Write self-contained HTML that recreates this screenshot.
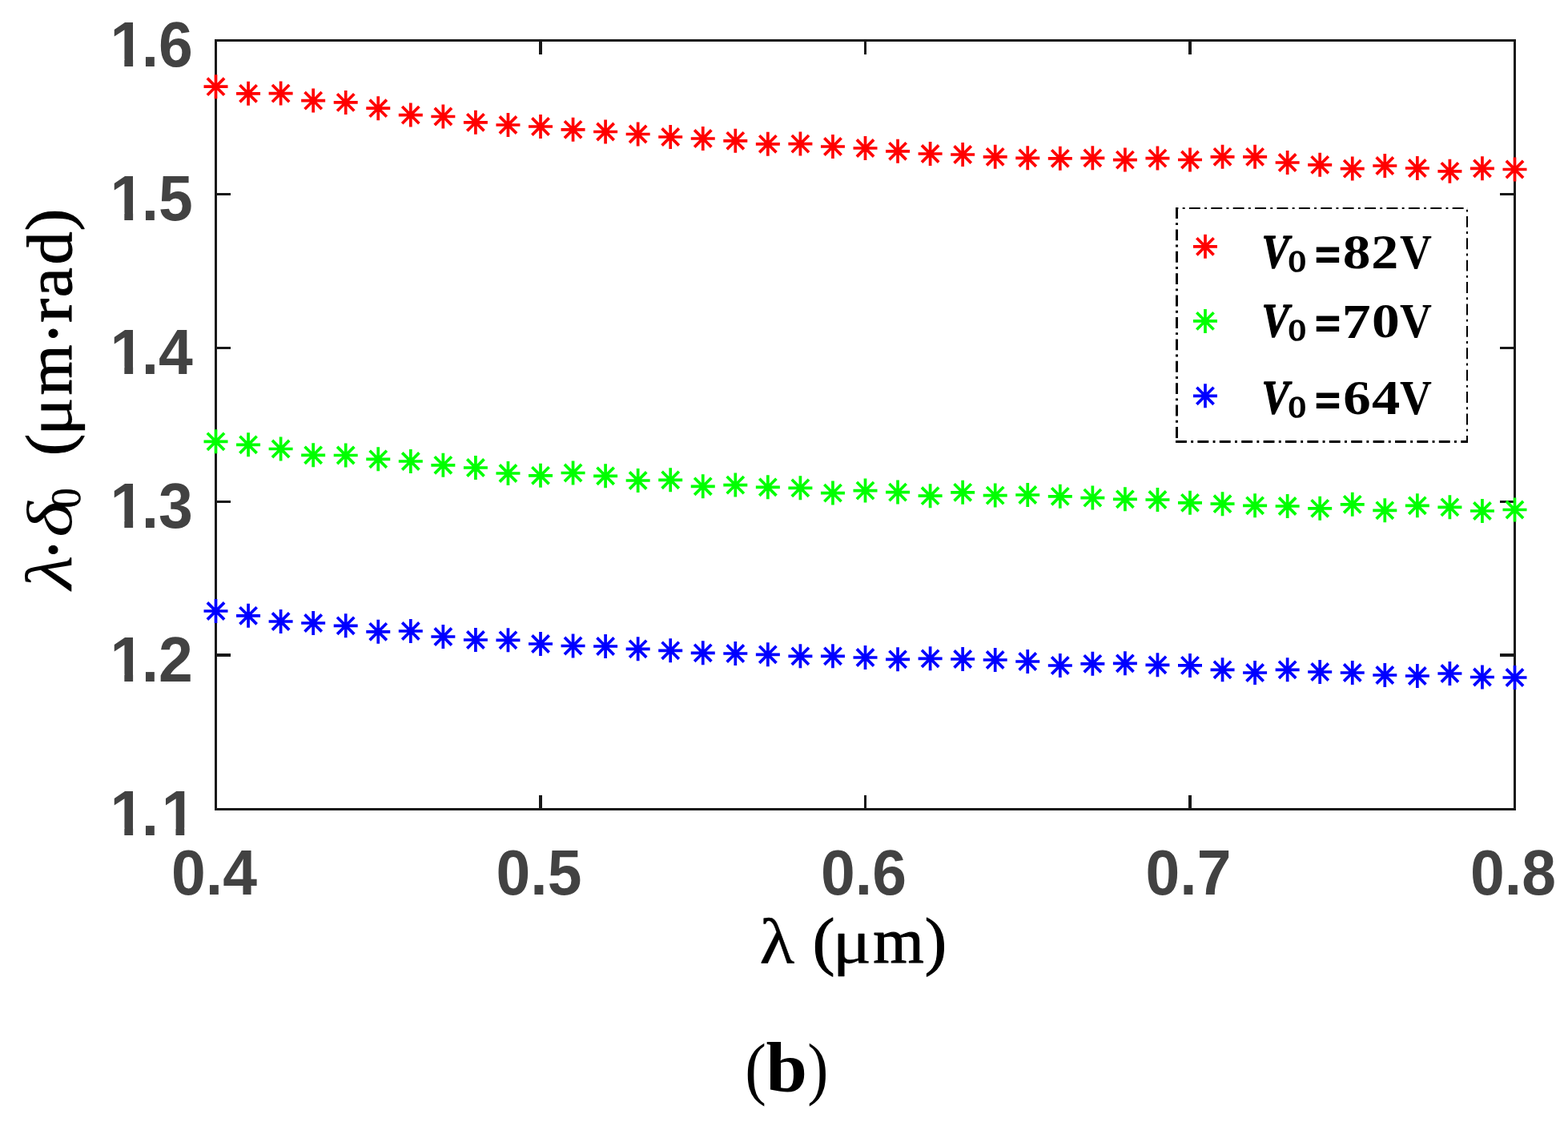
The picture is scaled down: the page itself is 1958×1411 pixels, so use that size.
<!DOCTYPE html>
<html lang="en"><head><meta charset="utf-8"><title>Figure (b)</title>
<style>
html,body{margin:0;padding:0;background:#fff;}
body{width:1958px;height:1411px;overflow:hidden;}
svg{display:block;}
.tick{font-family:"Liberation Sans",sans-serif;font-weight:bold;font-size:76.9px;fill:#424242;}
.ser{font-family:"Liberation Serif","DejaVu Serif",serif;fill:#000;}
.ax{stroke:#181818;stroke-width:3;fill:none;stroke-linecap:butt;}
.mk{stroke-width:3.7;fill:none;stroke-linecap:butt;}
</style></head><body>
<svg width="1958" height="1411" viewBox="0 0 1958 1411">
<rect x="0" y="0" width="1958" height="1411" fill="#ffffff"/>
<defs>
<path id="star" d="M-15.0,0H15.0M0,-15.0V15.0M-10.61,-10.61L10.61,10.61M-10.61,10.61L10.61,-10.61"/>
<clipPath id="c1"><path d="M-10,-80H140V20H46.26V-8.92H32.15V3H21.38V-8.92H-10Z"/></clipPath>
<clipPath id="c11"><path d="M-10,-80H140V-8.92H96.29V3H85.51V-8.92H62.13V20H46.26V-8.92H32.15V3H21.38V-8.92H-10Z"/></clipPath>
</defs>
<g class="ax">
<rect x="269.5" y="50.5" width="1622.0" height="960.00"/>
</g>
<g fill="#181818"><rect x="673.0" y="993.0" width="4" height="17" /><rect x="673.0" y="51.0" width="4" height="17" /><rect x="1079.0" y="993.0" width="3" height="17" /><rect x="1079.0" y="51.0" width="3" height="17" /><rect x="1484.0" y="993.0" width="4" height="17" /><rect x="1484.0" y="51.0" width="4" height="17" /><rect x="270.0" y="241.0" width="18" height="3" /><rect x="1873.0" y="241.0" width="18" height="3" /><rect x="270.0" y="433.0" width="18" height="3" /><rect x="1873.0" y="433.0" width="18" height="3" /><rect x="270.0" y="625.0" width="18" height="3" /><rect x="1873.0" y="625.0" width="18" height="3" /><rect x="270.0" y="816.0" width="18" height="4" /><rect x="1873.0" y="816.0" width="18" height="4" /></g>
<g class="tick">
<g transform="translate(133.96,82.90) scale(1,1.037)"><text clip-path="url(#c1)"><tspan x="3.6">1</tspan><tspan x="42.76">.6</tspan></text></g>
<g transform="translate(133.96,274.90) scale(1,1.037)"><text clip-path="url(#c1)"><tspan x="3.6">1</tspan><tspan x="42.76">.5</tspan></text></g>
<g transform="translate(133.96,466.90) scale(1,1.037)"><text clip-path="url(#c1)"><tspan x="3.6">1</tspan><tspan x="42.76">.4</tspan></text></g>
<g transform="translate(133.96,658.90) scale(1,1.037)"><text clip-path="url(#c1)"><tspan x="3.6">1</tspan><tspan x="42.76">.3</tspan></text></g>
<g transform="translate(133.96,850.90) scale(1,1.037)"><text clip-path="url(#c1)"><tspan x="3.6">1</tspan><tspan x="42.76">.2</tspan></text></g>
<g transform="translate(133.96,1042.90) scale(1,1.037)"><text clip-path="url(#c11)"><tspan x="3.6">1</tspan><tspan x="42.76">.</tspan><tspan x="67.73">1</tspan></text></g>
<text text-anchor="middle" transform="translate(267.45,1116.9) scale(1,1.037)">0.4</text>
<text text-anchor="middle" transform="translate(672.95,1116.9) scale(1,1.037)">0.5</text>
<text text-anchor="middle" transform="translate(1078.45,1116.9) scale(1,1.037)">0.6</text>
<text text-anchor="middle" transform="translate(1483.95,1116.9) scale(1,1.037)">0.7</text>
<text text-anchor="middle" transform="translate(1889.45,1116.9) scale(1,1.037)">0.8</text>
</g>
<g class="mk" stroke="#ff0000">
<use href="#star" x="269.50" y="108.2"/>
<use href="#star" x="310.05" y="116.8"/>
<use href="#star" x="350.60" y="116.6"/>
<use href="#star" x="391.15" y="125.6"/>
<use href="#star" x="431.70" y="127.9"/>
<use href="#star" x="472.25" y="135.2"/>
<use href="#star" x="512.80" y="143.6"/>
<use href="#star" x="553.35" y="145.5"/>
<use href="#star" x="593.90" y="152.8"/>
<use href="#star" x="634.45" y="156.0"/>
<use href="#star" x="675.00" y="158.0"/>
<use href="#star" x="715.55" y="161.8"/>
<use href="#star" x="756.10" y="164.5"/>
<use href="#star" x="796.65" y="167.5"/>
<use href="#star" x="837.20" y="171.0"/>
<use href="#star" x="877.75" y="173.0"/>
<use href="#star" x="918.30" y="175.8"/>
<use href="#star" x="958.85" y="179.8"/>
<use href="#star" x="999.40" y="179.6"/>
<use href="#star" x="1039.95" y="183.0"/>
<use href="#star" x="1080.50" y="185.0"/>
<use href="#star" x="1121.05" y="188.8"/>
<use href="#star" x="1161.60" y="192.0"/>
<use href="#star" x="1202.15" y="193.0"/>
<use href="#star" x="1242.70" y="195.8"/>
<use href="#star" x="1283.25" y="197.3"/>
<use href="#star" x="1323.80" y="197.8"/>
<use href="#star" x="1364.35" y="197.3"/>
<use href="#star" x="1404.90" y="199.6"/>
<use href="#star" x="1445.45" y="197.6"/>
<use href="#star" x="1486.00" y="199.5"/>
<use href="#star" x="1526.55" y="195.8"/>
<use href="#star" x="1567.10" y="195.8"/>
<use href="#star" x="1607.65" y="203.0"/>
<use href="#star" x="1648.20" y="205.8"/>
<use href="#star" x="1688.75" y="210.6"/>
<use href="#star" x="1729.30" y="207.0"/>
<use href="#star" x="1769.85" y="210.0"/>
<use href="#star" x="1810.40" y="213.8"/>
<use href="#star" x="1850.95" y="210.3"/>
<use href="#star" x="1891.50" y="211.5"/>
</g>
<g class="mk" stroke="#00ff00">
<use href="#star" x="269.50" y="551.3"/>
<use href="#star" x="310.05" y="555.3"/>
<use href="#star" x="350.60" y="560.5"/>
<use href="#star" x="391.15" y="568.3"/>
<use href="#star" x="431.70" y="568.5"/>
<use href="#star" x="472.25" y="573.3"/>
<use href="#star" x="512.80" y="576.0"/>
<use href="#star" x="553.35" y="580.8"/>
<use href="#star" x="593.90" y="584.0"/>
<use href="#star" x="634.45" y="591.0"/>
<use href="#star" x="675.00" y="593.8"/>
<use href="#star" x="715.55" y="590.5"/>
<use href="#star" x="756.10" y="594.3"/>
<use href="#star" x="796.65" y="600.0"/>
<use href="#star" x="837.20" y="599.3"/>
<use href="#star" x="877.75" y="607.3"/>
<use href="#star" x="918.30" y="605.6"/>
<use href="#star" x="958.85" y="608.3"/>
<use href="#star" x="999.40" y="609.3"/>
<use href="#star" x="1039.95" y="615.6"/>
<use href="#star" x="1080.50" y="612.6"/>
<use href="#star" x="1121.05" y="614.6"/>
<use href="#star" x="1161.60" y="619.2"/>
<use href="#star" x="1202.15" y="614.8"/>
<use href="#star" x="1242.70" y="618.6"/>
<use href="#star" x="1283.25" y="618.0"/>
<use href="#star" x="1323.80" y="619.8"/>
<use href="#star" x="1364.35" y="621.6"/>
<use href="#star" x="1404.90" y="623.3"/>
<use href="#star" x="1445.45" y="624.0"/>
<use href="#star" x="1486.00" y="627.8"/>
<use href="#star" x="1526.55" y="629.2"/>
<use href="#star" x="1567.10" y="631.3"/>
<use href="#star" x="1607.65" y="632.0"/>
<use href="#star" x="1648.20" y="634.8"/>
<use href="#star" x="1688.75" y="629.8"/>
<use href="#star" x="1729.30" y="637.3"/>
<use href="#star" x="1769.85" y="631.3"/>
<use href="#star" x="1810.40" y="633.3"/>
<use href="#star" x="1850.95" y="638.0"/>
<use href="#star" x="1891.50" y="636.5"/>
</g>
<g class="mk" stroke="#0000ff">
<use href="#star" x="269.50" y="763.0"/>
<use href="#star" x="310.05" y="768.8"/>
<use href="#star" x="350.60" y="776.0"/>
<use href="#star" x="391.15" y="778.0"/>
<use href="#star" x="431.70" y="781.3"/>
<use href="#star" x="472.25" y="788.8"/>
<use href="#star" x="512.80" y="788.0"/>
<use href="#star" x="553.35" y="795.0"/>
<use href="#star" x="593.90" y="799.0"/>
<use href="#star" x="634.45" y="799.3"/>
<use href="#star" x="675.00" y="804.0"/>
<use href="#star" x="715.55" y="806.5"/>
<use href="#star" x="756.10" y="807.0"/>
<use href="#star" x="796.65" y="810.3"/>
<use href="#star" x="837.20" y="812.3"/>
<use href="#star" x="877.75" y="815.3"/>
<use href="#star" x="918.30" y="816.0"/>
<use href="#star" x="958.85" y="817.3"/>
<use href="#star" x="999.40" y="819.3"/>
<use href="#star" x="1039.95" y="819.3"/>
<use href="#star" x="1080.50" y="821.0"/>
<use href="#star" x="1121.05" y="823.3"/>
<use href="#star" x="1161.60" y="822.3"/>
<use href="#star" x="1202.15" y="823.0"/>
<use href="#star" x="1242.70" y="824.0"/>
<use href="#star" x="1283.25" y="826.0"/>
<use href="#star" x="1323.80" y="831.0"/>
<use href="#star" x="1364.35" y="828.8"/>
<use href="#star" x="1404.90" y="828.3"/>
<use href="#star" x="1445.45" y="830.3"/>
<use href="#star" x="1486.00" y="830.9"/>
<use href="#star" x="1526.55" y="836.3"/>
<use href="#star" x="1567.10" y="840.0"/>
<use href="#star" x="1607.65" y="836.3"/>
<use href="#star" x="1648.20" y="839.0"/>
<use href="#star" x="1688.75" y="840.0"/>
<use href="#star" x="1729.30" y="843.0"/>
<use href="#star" x="1769.85" y="844.0"/>
<use href="#star" x="1810.40" y="841.0"/>
<use href="#star" x="1850.95" y="845.5"/>
<use href="#star" x="1891.50" y="846.0"/>
</g>
<g stroke="#000" fill="none" stroke-dasharray="13.9 5.3 2.9 5.3">
<path d="M1468,260H1833" stroke-width="2" stroke-dashoffset="10.5"/>
<path d="M1468,551.5H1833" stroke-width="3" stroke-dashoffset="0"/>
<path d="M1469.5,259V553" stroke-width="3" stroke-dashoffset="0"/>
<path d="M1832,259V553" stroke-width="2" stroke-dashoffset="16.5"/>
</g>
<use href="#star" class="mk" stroke="#ff0000" x="1505" y="307.8"/>
<text class="ser"><tspan x="1575.57" y="334.07" font-size="58.81" textLength="34.29" lengthAdjust="spacingAndGlyphs" font-weight="bold" font-style="italic" stroke="#000" stroke-width="1.3" stroke-linejoin="round">V</tspan><tspan x="1609.14" y="338.68" font-size="37.48" textLength="21.53" lengthAdjust="spacingAndGlyphs" stroke="#000" stroke-width="1.7" stroke-linejoin="round">0</tspan><tspan x="1639.05" y="336.67" font-size="57.44" textLength="37.92" lengthAdjust="spacingAndGlyphs" font-family="DejaVu Serif, serif" font-weight="bold">=</tspan><tspan x="1676.74" y="335.19" font-size="60.89" textLength="34.71" lengthAdjust="spacingAndGlyphs" font-weight="bold">8</tspan><tspan x="1712.21" y="335.00" font-size="60.53" textLength="33.98" lengthAdjust="spacingAndGlyphs" font-weight="bold">2</tspan><tspan x="1748.05" y="334.69" font-size="60.75" textLength="39.93" lengthAdjust="spacingAndGlyphs" font-weight="bold">V</tspan></text>
<use href="#star" class="mk" stroke="#00ff00" x="1505" y="400.9"/>
<text class="ser"><tspan x="1575.57" y="420.27" font-size="58.81" textLength="34.29" lengthAdjust="spacingAndGlyphs" font-weight="bold" font-style="italic" stroke="#000" stroke-width="1.3" stroke-linejoin="round">V</tspan><tspan x="1609.14" y="424.88" font-size="37.48" textLength="21.53" lengthAdjust="spacingAndGlyphs" stroke="#000" stroke-width="1.7" stroke-linejoin="round">0</tspan><tspan x="1639.05" y="422.87" font-size="57.44" textLength="37.92" lengthAdjust="spacingAndGlyphs" font-family="DejaVu Serif, serif" font-weight="bold">=</tspan><tspan x="1675.67" y="421.50" font-size="61.83" textLength="35.93" lengthAdjust="spacingAndGlyphs" font-weight="bold">7</tspan><tspan x="1713.09" y="421.29" font-size="61.19" textLength="34.82" lengthAdjust="spacingAndGlyphs" font-weight="bold">0</tspan><tspan x="1748.05" y="420.89" font-size="60.75" textLength="39.93" lengthAdjust="spacingAndGlyphs" font-weight="bold">V</tspan></text>
<use href="#star" class="mk" stroke="#0000ff" x="1505" y="494.3"/>
<text class="ser"><tspan x="1575.57" y="516.37" font-size="58.81" textLength="34.29" lengthAdjust="spacingAndGlyphs" font-weight="bold" font-style="italic" stroke="#000" stroke-width="1.3" stroke-linejoin="round">V</tspan><tspan x="1609.14" y="520.98" font-size="37.48" textLength="21.53" lengthAdjust="spacingAndGlyphs" stroke="#000" stroke-width="1.7" stroke-linejoin="round">0</tspan><tspan x="1639.05" y="518.97" font-size="57.44" textLength="37.92" lengthAdjust="spacingAndGlyphs" font-family="DejaVu Serif, serif" font-weight="bold">=</tspan><tspan x="1677.39" y="517.28" font-size="61.71" textLength="34.48" lengthAdjust="spacingAndGlyphs" font-weight="bold">6</tspan><tspan x="1713.02" y="517.30" font-size="61.60" textLength="35.32" lengthAdjust="spacingAndGlyphs" font-weight="bold">4</tspan><tspan x="1748.05" y="516.99" font-size="60.75" textLength="39.93" lengthAdjust="spacingAndGlyphs" font-weight="bold">V</tspan></text>
<text class="ser"><tspan x="948.62" y="1202.70" font-size="80.28" textLength="43.72" lengthAdjust="spacingAndGlyphs" stroke="#000" stroke-width="0.4" stroke-linejoin="round">λ</tspan><tspan x="1000.00" y="1202.50" font-size="40"> </tspan><tspan x="1014.71" y="1201.77" font-size="79.89" textLength="27.69" lengthAdjust="spacingAndGlyphs" stroke="#000" stroke-width="1.1" stroke-linejoin="round">(</tspan><tspan x="1039.48" y="1201.94" font-size="78.67" textLength="48.70" lengthAdjust="spacingAndGlyphs" stroke="#000" stroke-width="0.3" stroke-linejoin="round">μ</tspan><tspan x="1090.22" y="1201.85" font-size="80.85" textLength="63.49" lengthAdjust="spacingAndGlyphs" stroke="#000" stroke-width="1.1" stroke-linejoin="round">m</tspan><tspan x="1154.69" y="1201.77" font-size="79.89" textLength="27.29" lengthAdjust="spacingAndGlyphs" stroke="#000" stroke-width="1.1" stroke-linejoin="round">)</tspan></text>
<text class="ser"><tspan x="930.20" y="1362.71" font-size="86.52" textLength="26.64" lengthAdjust="spacingAndGlyphs">(</tspan><tspan x="956.54" y="1363.20" font-size="89.50" textLength="51.47" lengthAdjust="spacingAndGlyphs" font-weight="bold">b</tspan><tspan x="1008.35" y="1362.71" font-size="86.52" textLength="26.12" lengthAdjust="spacingAndGlyphs">)</tspan></text>
<text class="ser" transform="rotate(-90)"><tspan x="-736.23" y="89.40" font-size="81.56" textLength="42.76" lengthAdjust="spacingAndGlyphs" font-style="italic">λ</tspan><tspan x="-700.97" y="97.06" font-size="93.62" textLength="29.19" lengthAdjust="spacingAndGlyphs" stroke="#000" stroke-width="1.1" stroke-linejoin="round">·</tspan><tspan x="-670.77" y="88.59" font-size="81.27" textLength="44.46" lengthAdjust="spacingAndGlyphs" font-style="italic">δ</tspan><tspan x="-634.45" y="100.13" font-size="52.30" textLength="25.29" lengthAdjust="spacingAndGlyphs" stroke="#000" stroke-width="0.5" stroke-linejoin="round">0</tspan><tspan x="-600.00" y="89.00" font-size="40"> </tspan><tspan x="-569.12" y="88.08" font-size="80.33" textLength="27.16" lengthAdjust="spacingAndGlyphs" stroke="#000" stroke-width="1.1" stroke-linejoin="round">(</tspan><tspan x="-544.24" y="88.65" font-size="80.00" textLength="48.19" lengthAdjust="spacingAndGlyphs" stroke="#000" stroke-width="0.3" stroke-linejoin="round">μ</tspan><tspan x="-493.47" y="88.55" font-size="81.28" textLength="63.07" lengthAdjust="spacingAndGlyphs" stroke="#000" stroke-width="1.1" stroke-linejoin="round">m</tspan><tspan x="-431.06" y="97.06" font-size="93.62" textLength="29.47" lengthAdjust="spacingAndGlyphs" stroke="#000" stroke-width="1.1" stroke-linejoin="round">·</tspan><tspan x="-402.96" y="88.55" font-size="80.85" textLength="30.13" lengthAdjust="spacingAndGlyphs" stroke="#000" stroke-width="1.1" stroke-linejoin="round">r</tspan><tspan x="-371.28" y="88.54" font-size="81.25" textLength="37.19" lengthAdjust="spacingAndGlyphs" stroke="#000" stroke-width="1.1" stroke-linejoin="round">a</tspan><tspan x="-330.63" y="88.54" font-size="80.71" textLength="41.10" lengthAdjust="spacingAndGlyphs" stroke="#000" stroke-width="1.1" stroke-linejoin="round">d</tspan><tspan x="-288.34" y="88.08" font-size="80.33" textLength="27.55" lengthAdjust="spacingAndGlyphs" stroke="#000" stroke-width="1.1" stroke-linejoin="round">)</tspan></text>
</svg></body></html>
